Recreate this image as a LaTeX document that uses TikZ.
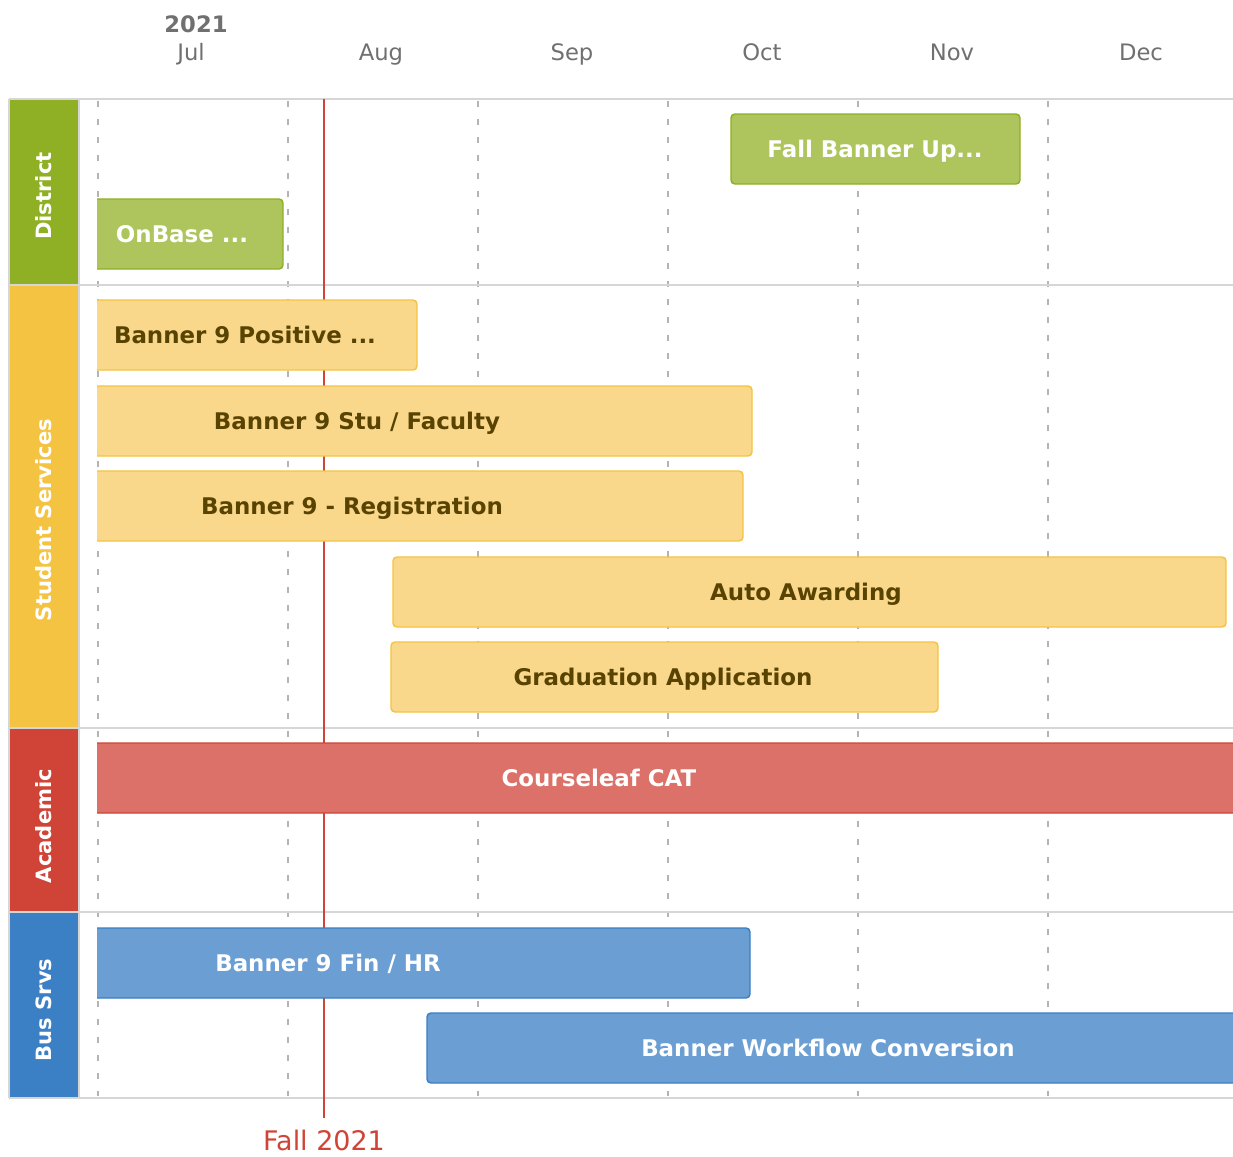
\documentclass[tikz,border=0pt]{standalone}
\usepackage{fontspec}
\setmainfont{DejaVu Sans}
\definecolor{grid}{HTML}{D6D6D6}
\definecolor{dashc}{HTML}{B4B4B4}
\definecolor{monthc}{HTML}{707070}
\definecolor{distC}{HTML}{8FB024}
\definecolor{distF}{HTML}{ADC55C}
\definecolor{stuC}{HTML}{F5C342}
\definecolor{stuF}{HTML}{F9D88C}
\definecolor{stuT}{HTML}{594300}
\definecolor{acaC}{HTML}{D04437}
\definecolor{acaF}{HTML}{DB7169}
\definecolor{busC}{HTML}{3B7FC4}
\definecolor{busF}{HTML}{6B9FD3}
\definecolor{redline}{HTML}{D04437}
\begin{document}
\begin{tikzpicture}[x=0.75pt,y=-0.75pt,
  month/.style={font=\fontsize{17}{20}\selectfont, text=monthc, inner sep=0pt, anchor=base},
  yearlbl/.style={font=\bfseries\fontsize{17}{20}\selectfont, text=monthc, inner sep=0pt, anchor=base},
  gridline/.style={draw=grid, line width=1.5pt},
  dashline/.style={draw=dashc, line width=1.1pt, dash pattern=on 4.5pt off 9pt},
  lane/.style={rotate=90, font=\bfseries\fontsize{15.8}{18}\selectfont, text=white, inner sep=0pt},
  bartext/.style={font=\bfseries\fontsize{17.2}{20}\selectfont, inner sep=0pt, anchor=base},
  distbar/.style={fill=distF, draw=distC, line width=1.1pt, rounded corners=3pt},
  stubar/.style={fill=stuF, draw=stuC, line width=1.1pt, rounded corners=3pt},
  acabar/.style={fill=acaF, draw=acaC, line width=1.1pt, rounded corners=3pt},
  busbar/.style={fill=busF, draw=busC, line width=1.1pt, rounded corners=3pt}
]
\useasboundingbox (0,0) rectangle (1233,1157);
\fill[white] (0,0) rectangle (1233,1157);
% header
\node[yearlbl] (y2021) at (196,32) {2021};
\node[month] (mjul) at (191,60.5) {Jul};
\node[month] (maug) at (381,60.5) {Aug};
\node[month] (msep) at (572,60.5) {Sep};
\node[month] (moct) at (762,60.5) {Oct};
\node[month] (mnov) at (952,60.5) {Nov};
\node[month] (mdec) at (1141,60.5) {Dec};
% lanes
\fill[distC] (9,99) rectangle (79,285);
\fill[stuC] (9,285) rectangle (79,728);
\fill[acaC] (9,728) rectangle (79,912);
\fill[busC] (9,912) rectangle (79,1098);
\node[lane] (ldist) at (44,196) {District};
\node[lane] (lstu) at (44,520) {Student Services};
\node[lane] (laca) at (44,826) {Academic};
\node[lane] (lbus) at (44,1010) {Bus Srvs};
% dashed month lines
\foreach \x in {98,288,478,668,858,1048} \draw[dashline] (\x,101) -- (\x,1096);
% grid
\foreach \y in {99,285,728,912,1098} \draw[gridline] (9,\y) -- (1233,\y);
\draw[gridline] (9,99) -- (9,1098);
\draw[gridline] (79,99) -- (79,1098);
% today line
\draw[draw=redline, line width=1.5pt] (324,99) -- (324,1118);
\node[font=\fontsize{20.2}{23}\selectfont, text=redline, inner sep=0pt, anchor=base] (fall) at (324,1150) {Fall 2021};
% bars
\begin{scope}
\clip (97,99) rectangle (1233.5,1098);
\draw[distbar] (731,114) rectangle (1020,184);
\draw[distbar] (80,199) rectangle (283,269);
\draw[stubar] (80,300) rectangle (417,370);
\draw[stubar] (80,386) rectangle (752,456);
\draw[stubar] (80,471) rectangle (743,541);
\draw[stubar] (393,557) rectangle (1226,627);
\draw[stubar] (391,642) rectangle (938,712);
\draw[acabar] (80,743) rectangle (1250,813);
\draw[busbar] (80,928) rectangle (750,998);
\draw[busbar] (427,1013) rectangle (1250,1083);
\end{scope}
\node[bartext, text=white] (b1) at (875,157) {Fall Banner Up...};
\node[bartext, text=white] (b2) at (182,242.5) {OnBase ...};
\node[bartext, text=stuT] (b3) at (245,343.5) {Banner 9 Positive ...};
\node[bartext, text=stuT] (b4) at (357,429) {Banner 9 Stu / Faculty};
\node[bartext, text=stuT] (b5) at (352,514.5) {Banner 9 - Registration};
\node[bartext, text=stuT] (b6) at (806,600) {Auto Awarding};
\node[bartext, text=stuT] (b7) at (663,685.5) {Graduation Application};
\node[bartext, text=white] (b8) at (599,786.5) {Courseleaf CAT};
\node[bartext, text=white] (b9) at (328,971) {Banner 9 Fin / HR};
\node[bartext, text=white] (b10) at (828,1056.5) {Banner Workflow Conversion};
\end{tikzpicture}
\end{document}
